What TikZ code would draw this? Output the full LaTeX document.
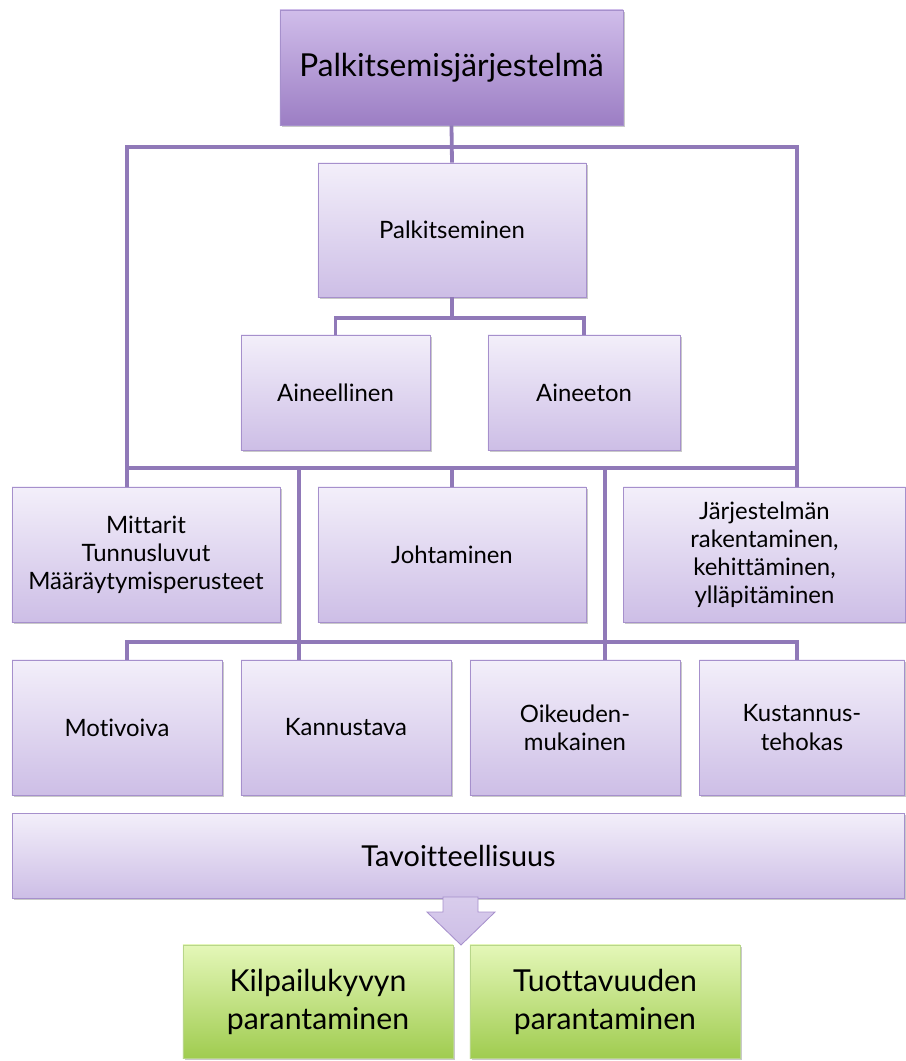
\documentclass[tikz,border=0pt]{standalone}
\usepackage{fontspec}
\setmainfont{Lato}[Ligatures=NoCommon]
\usetikzlibrary{shadows}
\definecolor{toptop}{HTML}{D0BDEA}
\definecolor{topbot}{HTML}{9C7EC4}
\definecolor{lavtop}{HTML}{F3EFFA}
\definecolor{lavbot}{HTML}{CDBEE6}
\definecolor{grntop}{HTML}{E4F7B8}
\definecolor{grnbot}{HTML}{A0CC50}
\definecolor{boxline}{HTML}{A690CC}
\definecolor{grnline}{HTML}{B8D68A}
\definecolor{linkcol}{HTML}{9079B8}
\tikzstyle{bx}=[draw=boxline, line width=0.6pt, shading=axis, top color=lavtop, bottom color=lavbot, align=center, inner sep=0, text=black, font=\fontsize{17}{20}\selectfont, drop shadow={shadow xshift=1.2pt, shadow yshift=-1.2pt, opacity=0.3, fill=black!70}]
\tikzstyle{headbx}=[bx, top color=toptop, bottom color=topbot, font=\fontsize{22.5}{27}\selectfont]
\tikzstyle{goalbx}=[bx, draw=grnline, top color=grntop, bottom color=grnbot, font=\fontsize{21.5}{27}\selectfont]
\tikzstyle{link}=[draw=linkcol, line width=2.7pt]

\begin{document}
\begin{tikzpicture}[x=0.025cm, y=-0.025cm]
\useasboundingbox (0,0) rectangle (906,1061);
\draw (451.5,67.5) node[headbx, minimum width=85.75mm, minimum height=28.75mm] (top) {Palkitsemisj\"arjestelm\"a};
%
\draw (452,230) node[bx, minimum width=67mm, minimum height=33.5mm] (pal) {Palkitseminen};
\draw (335.5,392.5) node[bx, minimum width=47.25mm, minimum height=28.75mm] (ain) {Aineellinen};
\draw (584,392.5) node[bx, minimum width=48mm, minimum height=28.75mm] (ane) {Aineeton};
%
\draw (146,554.5) node[bx, minimum width=67mm, minimum height=33.75mm] (mit) {Mittarit\\Tunnusluvut\\M\"a\"ar\"aytymisperusteet};
\draw (452,554.5) node[bx, minimum width=67mm, minimum height=33.75mm] (joh) {Johtaminen};
\draw (764.5,554.5) node[bx, minimum width=70.5mm, minimum height=33.75mm] (jar) {J\"arjestelm\"an\\rakentaminen,\\kehitt\"aminen,\\yll\"apit\"aminen};
%
\draw (117,727.5) node[bx, minimum width=52.5mm, minimum height=33.75mm] (mot) {Motivoiva};
\draw (346,727.5) node[bx, minimum width=52.5mm, minimum height=33.75mm] (kan) {Kannustava};
\draw (575,727.5) node[bx, minimum width=52.5mm, minimum height=33.75mm] (oik) {Oikeuden-\\mukainen};
\draw (802,727.5) node[bx, minimum width=51.25mm, minimum height=33.75mm] (kus) {Kustannus-\\tehokas};
%
\draw (458.5,855.5) node[bx, minimum width=223mm, minimum height=21.25mm, font=\fontsize{20.5}{24}\selectfont] (tav) {Tavoitteellisuus};
\draw[draw=boxline, line width=0.6pt, shading=axis, top color=lavbot!70!lavtop, bottom color=lavbot] (443,897) -- (478,897) -- (478,912) -- (495,912) -- (461,945) -- (427,912) -- (443,912) -- cycle;
%
\draw (318,1001.5) node[goalbx, minimum width=67.5mm, minimum height=28.25mm] (kil) {Kilpailukyvyn\\parantaminen};
\draw (605,1001.5) node[goalbx, minimum width=67.5mm, minimum height=28.25mm] (tuo) {Tuottavuuden\\parantaminen};
%
\coordinate (jl) at (127,147);
\coordinate (jr) at (797,147);
\coordinate (kl) at (127,468);
\coordinate (kr) at (797,468);
\coordinate (ml) at (127,642);
\coordinate (mr) at (797,642);
\coordinate (pj) at (452,318);
%
\draw[link] (top.south) -- (pal.north);
\draw[link] (mit.north -| jl) -- (jl) -- (jr) -- (jar.north -| jr);
\draw[link] (pal.south) -- (pj);
\draw[link] (ain.north) |- (pj) -| (ane.north);
\draw[link] (kl) -- (kr);
\draw[link] (joh.north |- kl) -- (joh.north);
\foreach \x in {299,605}
    {
	\draw[link] (\x,468) -- (\x,660);}
\draw[link] (mot.north -| ml) -- (ml) -- (mr) -- (kus.north -| mr);
\end{tikzpicture}
\end{document}
